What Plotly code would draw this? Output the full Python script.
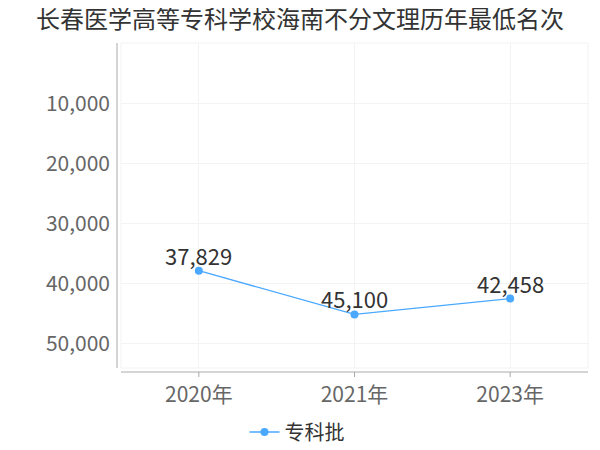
import plotly.graph_objects as go

years = ["2020年", "2021年", "2023年"]
ranks = [37829, 45100, 42458]
series_name = "专科批"
y_ticks = [10000, 20000, 30000, 40000, 50000]
y_tick_text = ["10,000", "20,000", "30,000", "40,000", "50,000"]
title = "长春医学高等专科学校海南不分文理历年最低名次"

FONT = "Noto Sans CJK SC"
OFF = 8  # page body margin
W, H = 600 - OFF, 450 - OFF
L, T = 121 - OFF, 43 - OFF
R = W - (588 - OFF)
B = H - (368 - OFF)
pw = W - L - R
ph = H - T - B

fig = go.Figure()
fig.add_trace(go.Scatter(
    x=years, y=ranks, mode="lines+markers", name=series_name,
    line=dict(color="#4aa8ff", width=1.3),
    marker=dict(color="#4aa8ff", size=8),
    cliponaxis=False,
))

annotations = [
    dict(x=x, y=y, xref="x", yref="y", text=f"{y:,}", showarrow=False,
         yanchor="middle", xanchor="center", yshift=16,
         font=dict(family=FONT, size=22, color="#333333"))
    for x, y in zip(years, ranks)
]

shapes = [
    dict(type="rect", xref="paper", yref="paper", x0=0, x1=1, y0=0, y1=1,
         line=dict(color="#f2f2f2", width=1), layer="below"),
    dict(type="line", xref="paper", yref="paper", x0=-4/pw, x1=-4/pw, y0=0, y1=1,
         line=dict(color="#aaaaaa", width=1)),
    dict(type="line", xref="paper", yref="paper", x0=0, x1=1, y0=-4/ph, y1=-4/ph,
         line=dict(color="#aaaaaa", width=1)),
]
for i in range(len(years)):
    shapes.append(dict(type="line", xref="x", yref="paper", x0=i, x1=i,
                       y0=-4/ph, y1=-9/ph, line=dict(color="#aaaaaa", width=1)))

fig.update_layout(
    width=W, height=H,
    margin=dict(l=L, r=R, t=T, b=B, autoexpand=False),
    paper_bgcolor="white", plot_bgcolor="white",
    title=dict(text=title, x=(300 - OFF) / W, xanchor="center",
               y=1 - (19.5 - OFF) / H, yanchor="middle",
               font=dict(family=FONT, size=24, color="#333333")),
    xaxis=dict(type="category", range=[-0.5, 2.5], showgrid=True, gridcolor="#f3f3f3",
               zeroline=False, showline=False, ticks="", automargin=False,
               tickfont=dict(family=FONT, size=21, color="#666666"),
               ticklabelstandoff=12),
    yaxis=dict(range=[54000, 0], tickvals=y_ticks, ticktext=y_tick_text,
               showgrid=True, gridcolor="#f3f3f3", zeroline=False, showline=False,
               ticks="", automargin=False,
               tickfont=dict(family=FONT, size=21, color="#666666"),
               ticklabelstandoff=10),
    showlegend=True,
    legend=dict(orientation="h", x=(297 - 121) / pw, xanchor="center",
                y=-(432 - 368) / ph, yanchor="middle", itemwidth=30,
                font=dict(family=FONT, size=20, color="#333333")),
    annotations=annotations,
    shapes=shapes,
)

fig.write_html("out.html")
